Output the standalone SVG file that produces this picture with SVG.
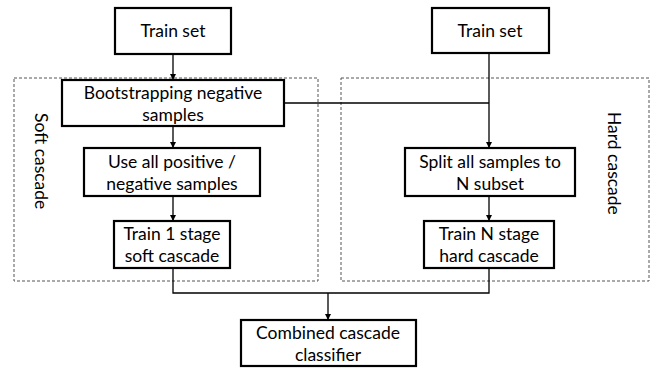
<svg xmlns="http://www.w3.org/2000/svg" width="660" height="369" viewBox="0 0 660 369">
<style>
.box{fill:#fff;stroke:#000;stroke-width:2.2}
.grp{fill:none;stroke:#555;stroke-width:1;stroke-dasharray:3,2}
.t{font-family:Lato,"Liberation Sans",sans-serif;font-size:17.5px;fill:#000;text-anchor:middle}
.r{font-family:Lato,"Liberation Sans",sans-serif;font-size:17.5px;fill:#000}
.c{fill:none;stroke:#000;stroke-width:1.3}
</style>
<defs>
<marker id="a" viewBox="0 0 10 10" refX="10" refY="5" markerWidth="6" markerHeight="6" orient="auto" markerUnits="userSpaceOnUse">
<path d="M0,0 L10,5 L0,10 z" fill="#000"/>
</marker>
</defs>
<g id="softGroup"><rect class="grp" x="14" y="78" width="304" height="203"/>
<text class="r" transform="translate(35,113) rotate(90)">Soft cascade</text></g>
<g id="hardGroup"><rect class="grp" x="341" y="78" width="308" height="203"/>
<text class="r" transform="translate(608,112) rotate(90)">Hard cascade</text></g>
<g id="connectors">
<path class="c" d="M173,54 V80" marker-end="url(#a)"/>
<path class="c" d="M284,103 H489"/>
<path class="c" d="M489,53 V148" marker-end="url(#a)"/>
<path class="c" d="M173,126 V148" marker-end="url(#a)"/>
<path class="c" d="M173,196 V221" marker-end="url(#a)"/>
<path class="c" d="M489,196 V221" marker-end="url(#a)"/>
<path class="c" d="M173,268 V293 H489 V268"/>
<path class="c" d="M328,293 V320" marker-end="url(#a)"/>
</g>
<g id="trainSetL"><rect class="box" x="115" y="8" width="116" height="46"/><text class="t" x="173" y="37">Train set</text></g>
<g id="trainSetR"><rect class="box" x="432" y="8" width="117" height="45"/><text class="t" x="490" y="37">Train set</text></g>
<g id="bootstrap"><rect class="box" x="62" y="80" width="222" height="46"/><text class="t" x="173" y="99">Bootstrapping negative</text><text class="t" x="173" y="121">samples</text></g>
<g id="useAll"><rect class="box" x="84" y="148" width="176" height="48"/><text class="t" x="172" y="168">Use all positive /</text><text class="t" x="172" y="190">negative samples</text></g>
<g id="train1"><rect class="box" x="114" y="221" width="116" height="47"/><text class="t" x="172" y="240">Train 1 stage</text><text class="t" x="172" y="262">soft cascade</text></g>
<g id="split"><rect class="box" x="405" y="148" width="170" height="48"/><text class="t" x="490" y="168">Split all samples to</text><text class="t" x="490" y="190">N subset</text></g>
<g id="trainN"><rect class="box" x="424" y="221" width="130" height="47"/><text class="t" x="489" y="240">Train N stage</text><text class="t" x="489" y="262">hard cascade</text></g>
<g id="combined"><rect class="box" x="241" y="320" width="175" height="46"/><text class="t" x="328" y="339">Combined cascade</text><text class="t" x="328" y="361">classifier</text></g>
</svg>
